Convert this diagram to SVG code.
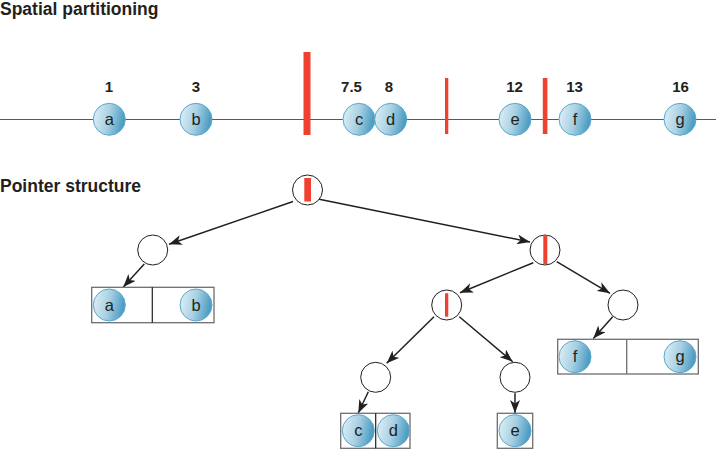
<svg xmlns="http://www.w3.org/2000/svg" width="716" height="449" viewBox="0 0 716 449">
<style>
.title{font-family:"Liberation Sans",Arial,sans-serif;font-weight:bold;font-size:17.5px;fill:#231f20}
.num{font-family:"Liberation Sans",Arial,sans-serif;font-weight:bold;font-size:15px;fill:#231f20;text-anchor:middle}
.lt{font-family:"Liberation Sans",Arial,sans-serif;font-size:16.5px;fill:#231f20;text-anchor:middle}
.ball{fill:url(#bg);stroke:#5aa9cc;stroke-width:1}
.node{fill:#fff;stroke:#231f20;stroke-width:1}
.box{fill:#fff;stroke:#6d6e71;stroke-width:1.3}
.red{fill:#ee4130}
.conn line{stroke:#231f20;stroke-width:1.5;marker-end:url(#ah)}
</style>
<defs>
<linearGradient id="bg" x1="0" y1="0" x2="1" y2="0.2">
<stop offset="0" stop-color="#e4f1f7"/>
<stop offset="0.55" stop-color="#a6d0e3"/>
<stop offset="1" stop-color="#4f9dc3"/>
</linearGradient>
<marker id="ah" markerUnits="userSpaceOnUse" markerWidth="14" markerHeight="10" refX="13" refY="5" orient="auto">
<path d="M0,0 L13,5 L0,10 L3.5,5 Z" fill="#231f20"/>
</marker>
</defs>

<text class="title" x="0" y="15">Spatial partitioning</text>
<text class="title" x="0" y="192">Pointer structure</text>

<g id="axis">
<line x1="0" y1="119.5" x2="716" y2="119.5" stroke="#58595b" stroke-width="1.2"/>
<rect class="red" x="303.5" y="52" width="7" height="83"/>
<rect class="red" x="445" y="78" width="3.3" height="56"/>
<rect class="red" x="542.8" y="78" width="4.6" height="56"/>
</g>

<g id="pt-a"><text class="num" x="109" y="92">1</text><circle cx="109.3" cy="119.3" r="16" class="ball"/><text class="lt" x="109.3" y="125">a</text></g>
<g id="pt-b"><text class="num" x="196" y="92">3</text><circle cx="196" cy="119.3" r="16" class="ball"/><text class="lt" x="196" y="125">b</text></g>
<g id="pt-c"><text class="num" x="351.5" y="92">7.5</text><circle cx="359" cy="119.3" r="16" class="ball"/><text class="lt" x="359" y="125">c</text></g>
<g id="pt-d"><text class="num" x="389" y="92">8</text><circle cx="390.7" cy="119.3" r="16" class="ball"/><text class="lt" x="390.7" y="125">d</text></g>
<g id="pt-e"><text class="num" x="514.5" y="92">12</text><circle cx="515" cy="119.3" r="16" class="ball"/><text class="lt" x="515" y="125">e</text></g>
<g id="pt-f"><text class="num" x="574.5" y="92">13</text><circle cx="575" cy="119.3" r="16" class="ball"/><text class="lt" x="575" y="125">f</text></g>
<g id="pt-g"><text class="num" x="680.5" y="92">16</text><circle cx="680" cy="119.3" r="16" class="ball"/><text class="lt" x="680" y="125">g</text></g>

<g class="conn" id="connectors">
<line x1="293" y1="201.5" x2="169" y2="244.3"/>
<line x1="318" y1="199" x2="530" y2="242"/>
<line x1="144.3" y1="264" x2="123.3" y2="287"/>
<line x1="533.3" y1="262.7" x2="460" y2="292.7"/>
<line x1="556.7" y1="261.7" x2="610" y2="293.3"/>
<line x1="612.7" y1="316.7" x2="593.3" y2="338.5"/>
<line x1="434" y1="316.7" x2="386.7" y2="363.3"/>
<line x1="459.3" y1="316.7" x2="512.7" y2="361.7"/>
<line x1="368.3" y1="391.7" x2="358.3" y2="413"/>
<line x1="515" y1="393.3" x2="515" y2="413"/>
</g>

<g id="root"><circle class="node" cx="307.5" cy="190" r="15"/><rect class="red" x="304.3" y="178" width="6.7" height="23.5"/></g>
<g id="n-left"><circle class="node" cx="152.7" cy="250" r="15"/></g>
<g id="n-right"><circle class="node" cx="545" cy="250" r="15"/><rect class="red" x="543.3" y="235" width="4" height="29"/></g>
<g id="n-rl"><circle class="node" cx="446.7" cy="305" r="15"/><rect class="red" x="445" y="293.3" width="3.3" height="23.4"/></g>
<g id="n-rr"><circle class="node" cx="623" cy="305" r="15"/></g>
<g id="n-rll"><circle class="node" cx="375.7" cy="377.3" r="15"/></g>
<g id="n-rlr"><circle class="node" cx="515" cy="377.3" r="15"/></g>

<g id="box-ab">
<rect class="box" x="91.7" y="287.3" width="122.3" height="35.4"/>
<line x1="152.3" y1="287.3" x2="152.3" y2="322.7" stroke="#231f20" stroke-width="1.2"/>
<circle cx="109.3" cy="305" r="16" class="ball"/><text class="lt" x="109.3" y="310.7">a</text>
<circle cx="196" cy="305" r="16" class="ball"/><text class="lt" x="196" y="310.7">b</text>
</g>
<g id="box-fg">
<rect class="box" x="557.7" y="339.3" width="140.6" height="34.7"/>
<line x1="626.7" y1="339.3" x2="626.7" y2="374" stroke="#6d6e71" stroke-width="1.3"/>
<circle cx="575" cy="356.7" r="16" class="ball"/><text class="lt" x="575" y="362.4">f</text>
<circle cx="680" cy="356.7" r="16" class="ball"/><text class="lt" x="680" y="362.4">g</text>
</g>
<g id="box-cd">
<rect class="box" x="340.7" y="413.3" width="69.3" height="35"/>
<line x1="375.7" y1="413.3" x2="375.7" y2="448.3" stroke="#231f20" stroke-width="1.2"/>
<circle cx="358.3" cy="430.7" r="16" class="ball"/><text class="lt" x="358.3" y="436.4">c</text>
<circle cx="393.3" cy="430.7" r="16" class="ball"/><text class="lt" x="393.3" y="436.4">d</text>
</g>
<g id="box-e">
<rect class="box" x="497.3" y="413.3" width="35.4" height="35"/>
<circle cx="515" cy="430.7" r="16" class="ball"/><text class="lt" x="515" y="436.4">e</text>
</g>
</svg>
